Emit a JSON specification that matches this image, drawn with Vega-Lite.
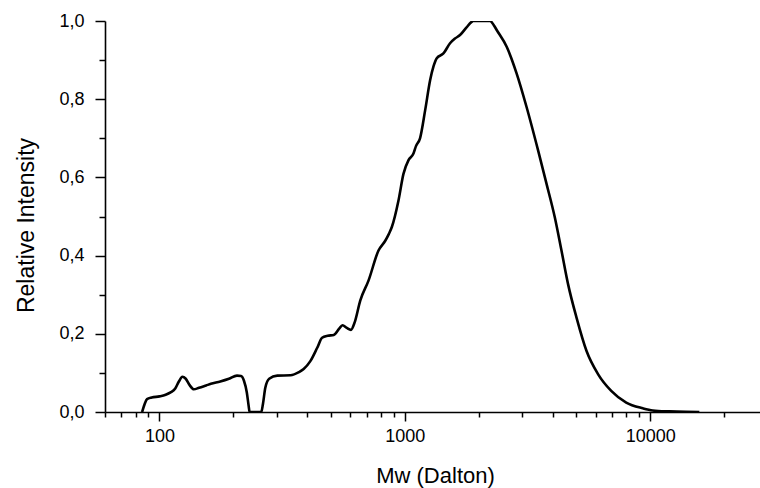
{
  "$schema": "https://vega.github.io/schema/vega-lite/v6.json",
  "width": 655,
  "height": 391,
  "autosize": {"type": "none"},
  "padding": {"left": 105, "top": 21, "right": 0, "bottom": 76},
  "background": "white",
  "config": {"view": {"stroke": null}},
  "data": {
    "values": [
      {"Mw": 85, "I": 0}, {"Mw": 87, "I": 0.02}, {"Mw": 89, "I": 0.033}, {"Mw": 93, "I": 0.037},
      {"Mw": 100, "I": 0.04}, {"Mw": 106, "I": 0.044}, {"Mw": 111, "I": 0.05}, {"Mw": 116, "I": 0.06},
      {"Mw": 120, "I": 0.078}, {"Mw": 124, "I": 0.09}, {"Mw": 128, "I": 0.085}, {"Mw": 133, "I": 0.068},
      {"Mw": 138, "I": 0.058}, {"Mw": 145, "I": 0.062}, {"Mw": 155, "I": 0.068}, {"Mw": 162, "I": 0.072},
      {"Mw": 177, "I": 0.078}, {"Mw": 192, "I": 0.085}, {"Mw": 207, "I": 0.093}, {"Mw": 215, "I": 0.092},
      {"Mw": 221, "I": 0.08}, {"Mw": 227, "I": 0.05}, {"Mw": 231, "I": 0.015}, {"Mw": 233, "I": 0},
      {"Mw": 260, "I": 0}, {"Mw": 264, "I": 0.02}, {"Mw": 270, "I": 0.062}, {"Mw": 280, "I": 0.085},
      {"Mw": 302, "I": 0.093}, {"Mw": 342, "I": 0.094}, {"Mw": 370, "I": 0.102}, {"Mw": 387, "I": 0.11},
      {"Mw": 412, "I": 0.13}, {"Mw": 440, "I": 0.165}, {"Mw": 460, "I": 0.19}, {"Mw": 485, "I": 0.195},
      {"Mw": 513, "I": 0.197}, {"Mw": 540, "I": 0.213}, {"Mw": 557, "I": 0.222}, {"Mw": 580, "I": 0.215},
      {"Mw": 603, "I": 0.21}, {"Mw": 625, "I": 0.23}, {"Mw": 658, "I": 0.285}, {"Mw": 711, "I": 0.336},
      {"Mw": 781, "I": 0.413}, {"Mw": 832, "I": 0.438}, {"Mw": 860, "I": 0.455}, {"Mw": 885, "I": 0.473},
      {"Mw": 942, "I": 0.541}, {"Mw": 987, "I": 0.609}, {"Mw": 1035, "I": 0.644}, {"Mw": 1084, "I": 0.661},
      {"Mw": 1110, "I": 0.68}, {"Mw": 1153, "I": 0.7}, {"Mw": 1210, "I": 0.772}, {"Mw": 1268, "I": 0.849},
      {"Mw": 1310, "I": 0.885}, {"Mw": 1349, "I": 0.905}, {"Mw": 1436, "I": 0.917}, {"Mw": 1528, "I": 0.943},
      {"Mw": 1600, "I": 0.955}, {"Mw": 1678, "I": 0.964}, {"Mw": 1780, "I": 0.983}, {"Mw": 1872, "I": 0.998},
      {"Mw": 1900, "I": 1.0}, {"Mw": 2223, "I": 1.0}, {"Mw": 2300, "I": 0.99}, {"Mw": 2367, "I": 0.977},
      {"Mw": 2600, "I": 0.934}, {"Mw": 2853, "I": 0.866}, {"Mw": 3133, "I": 0.78}, {"Mw": 3491, "I": 0.669},
      {"Mw": 3777, "I": 0.584}, {"Mw": 4083, "I": 0.498}, {"Mw": 4347, "I": 0.413}, {"Mw": 4624, "I": 0.327},
      {"Mw": 5003, "I": 0.242}, {"Mw": 5500, "I": 0.156}, {"Mw": 6124, "I": 0.097}, {"Mw": 6934, "I": 0.054},
      {"Mw": 7980, "I": 0.024}, {"Mw": 9330, "I": 0.0095}, {"Mw": 10240, "I": 0.004}, {"Mw": 11960, "I": 0.0015},
      {"Mw": 14000, "I": 0.0003}, {"Mw": 15850, "I": 0}
    ]
  },
  "mark": {"type": "line", "color": "black", "strokeWidth": 2.6, "interpolate": "monotone", "clip": true},
  "encoding": {
    "x": {
      "field": "Mw",
      "type": "quantitative",
      "scale": {"type": "log", "domain": [60, 28000], "nice": false},
      "axis": {
        "title": "Mw (Dalton)",
        "values": [60, 70, 80, 90, 100, 200, 300, 400, 500, 600, 700, 800, 900, 1000, 2000, 3000, 4000, 5000, 6000, 7000, 8000, 9000, 10000, 20000],
        "labelExpr": "(datum.value == 100 || datum.value == 1000 || datum.value == 10000) ? format(datum.value, 'd') : ''",
        "tickSize": {"condition": {"test": "datum.value == 100 || datum.value == 1000 || datum.value == 10000", "value": 9}, "value": 5},
        "tickColor": "black",
        "tickWidth": 1.5,
        "domainColor": "black",
        "domainWidth": 1.6,
        "grid": false,
        "labelFont": "Liberation Sans",
        "labelFontSize": 18,
        "labelColor": "black",
        "labelPadding": 6,
        "labelFlush": false,
        "labelOverlap": false,
        "titleFont": "Liberation Sans",
        "titleFontSize": 22,
        "titleFontWeight": "normal",
        "titleColor": "black",
        "titleX": 330,
        "titleY": 70,
        "titleBaseline": "alphabetic",
        "titleAlign": "center"
      }
    },
    "y": {
      "field": "I",
      "type": "quantitative",
      "scale": {"domain": [0, 1], "nice": false},
      "axis": {
        "title": "Relative Intensity",
        "values": [0, 0.1, 0.2, 0.3, 0.4, 0.5, 0.6, 0.7, 0.8, 0.9, 1.0],
        "labelExpr": "round(datum.value * 10) % 2 == 0 ? replace(format(datum.value, '.1f'), '.', ',') : ''",
        "tickSize": {"condition": {"test": "round(datum.value * 10) % 2 == 0", "value": 10}, "value": 6},
        "tickColor": "black",
        "tickWidth": 1.5,
        "domainColor": "black",
        "domainWidth": 1.6,
        "grid": false,
        "labelFont": "Liberation Sans",
        "labelFontSize": 18,
        "labelColor": "black",
        "labelPadding": 11,
        "labelFlush": false,
        "labelOverlap": false,
        "titleFont": "Liberation Sans",
        "titleFontSize": 23,
        "titleFontWeight": "normal",
        "titleColor": "black",
        "titleX": -72,
        "titleY": 204,
        "titleAngle": 270,
        "titleBaseline": "alphabetic",
        "titleAlign": "center"
      }
    }
  }
}
